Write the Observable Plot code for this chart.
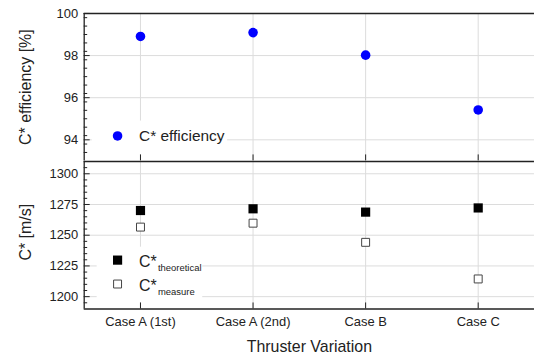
<!DOCTYPE html>
<html><head><meta charset="utf-8">
<script src="https://cdn.jsdelivr.net/npm/d3@7"></script>
<script src="https://cdn.jsdelivr.net/npm/@observablehq/plot@0.6"></script>
<style>
html,body{margin:0;padding:0;background:#fff;overflow:hidden;}
#wrap{position:relative;width:534px;height:357px;overflow:hidden;background:#fff;}
#topPanel,#botPanel{position:absolute;left:0;}
#topPanel{top:0}
#botPanel{top:160px}
</style></head><body><div id="wrap"><div id="topPanel"></div><div id="botPanel"></div></div>
<script>
// ---- data ----
const cases = ["Case A (1st)", "Case A (2nd)", "Case B", "Case C"];
const efficiency = [98.91, 99.09, 98.02, 95.42];
const cTheoretical = [1270.1, 1271.5, 1268.8, 1272.2];
const cMeasured = [1256.6, 1259.8, 1244.2, 1214.4];
const effTicks = [94, 96, 98, 100];
const cTicks = [1200, 1225, 1250, 1275, 1300];
const effDomain = [93, 100];
const cDomain = [1190, 1310];
const effMinorStep = 0.4;
const cMinorStep = 5;
const legendEff = "C* efficiency";
const legendC = ["C*", "C*"];
const legendSub = ["theoretical", "measure"];
const titles = {yTop: "C* efficiency [%]", yBot: "C* [m/s]", x: "Thruster Variation"};

// ---- layout ----
const W = 536, ML = 84, MR = 0;
const topH = 161, topMT = 13;
const botH = 197, botMT = 1, botMB = 48;
const pxX = (W - ML - MR) / cases.length;
const idx = cases.map((_, i) => i);
const xDomain = [-0.5, cases.length - 0.5];
const topK = (topH - topMT) / (effDomain[1] - effDomain[0]);
const botK = (botH - botMT - botMB) / (cDomain[1] - cDomain[0]);
const px2x = p => xDomain[0] + (p - ML) / pxX;
const px2yTop = p => effDomain[1] - (p - topMT) / topK;
const px2yBot = p => cDomain[1] - (p - 161) / botK;
const ink = "#222";
const gridColor = "#dcdcdc";
const blue = "#0000ff";
const font = "'Liberation Sans', Arial, sans-serif";
const minor = (dom, step, majors) => d3.range(Math.round((dom[1]-dom[0])/step)+1)
  .map(k => +(dom[0] + k*step).toFixed(4))
  .filter(v => v > dom[0] && v < dom[1] && !majors.includes(v));
const T = {lineAnchor: "middle", fill: ink};

const plotStyle = {fontFamily: font, background: "transparent", color: ink, overflow: "visible"};

const topChart = Plot.plot({
  width: W, height: topH, marginLeft: ML, marginRight: MR, marginTop: topMT, marginBottom: 0,
  style: plotStyle,
  x: {domain: xDomain, axis: null},
  y: {domain: effDomain, axis: null},
  marks: [
    Plot.gridY(effTicks, {stroke: gridColor, strokeOpacity: 1}),
    Plot.gridX(idx, {stroke: gridColor, strokeOpacity: 1}),
    Plot.rect([0], {x1: px2x(92), x2: px2x(228), y1: px2yTop(121), y2: px2yTop(155), fill: "white"}),
    Plot.ruleY(minor(effDomain, effMinorStep, effTicks), {x1: xDomain[0], x2: px2x(ML + 3.5), stroke: ink}),
    Plot.ruleY(effTicks, {x1: xDomain[0], x2: px2x(ML + 6), stroke: ink}),
    Plot.ruleX(idx, {y1: effDomain[0], y2: effDomain[0] + 6 / topK, stroke: ink}),
    Plot.ruleY([effDomain[1]], {stroke: ink, strokeWidth: 1.5}),
    Plot.ruleX([xDomain[0]], {stroke: ink, strokeWidth: 1.3}),
    Plot.dot(idx, {x: i => i, y: i => efficiency[i], r: 4.8, fill: blue}),
    Plot.dot([0], {frameAnchor: "bottom-left", dx: 33.5, dy: -25, r: 4.8, fill: blue}),
    Plot.text([legendEff], {...T, frameAnchor: "bottom-left", dx: 55, dy: -24.5, textAnchor: "start", fontSize: 15.5}),
    Plot.axisY(effTicks, {tickSize: 0, tickPadding: 6, fontSize: 13, label: null, fill: ink, tickFormat: d => String(d)}),
    Plot.text([titles.yTop], {...T, frameAnchor: "left", textAnchor: "middle", dx: -59, rotate: -90, fontSize: 16})
  ]
});
document.getElementById("topPanel").appendChild(topChart);

const botChart = Plot.plot({
  width: W, height: botH, marginLeft: ML, marginRight: MR, marginTop: botMT, marginBottom: botMB,
  style: plotStyle,
  x: {domain: xDomain, axis: null},
  y: {domain: cDomain, axis: null},
  marks: [
    Plot.gridY(cTicks, {stroke: gridColor, strokeOpacity: 1}),
    Plot.gridX(idx, {stroke: gridColor, strokeOpacity: 1}),
    Plot.rect([0], {x1: px2x(97), x2: px2x(203), y1: px2yBot(247), y2: px2yBot(303), fill: "white"}),
    Plot.ruleY(minor(cDomain, cMinorStep, cTicks), {x1: xDomain[0], x2: px2x(ML + 3.5), stroke: ink}),
    Plot.ruleY(cTicks, {x1: xDomain[0], x2: px2x(ML + 6), stroke: ink}),
    Plot.ruleX(idx, {y1: cDomain[0], y2: cDomain[0] + 6 / botK, stroke: ink}),
    Plot.ruleY([cDomain[1]], {stroke: ink, strokeWidth: 1.5}),
    Plot.ruleY([cDomain[0]], {stroke: ink, strokeWidth: 1.5}),
    Plot.ruleX([xDomain[0]], {stroke: ink, strokeWidth: 1.3}),
    Plot.dot(idx, {x: i => i, y: i => cTheoretical[i], r: 5.2, symbol: "square", fill: "#000"}),
    Plot.dot(idx, {x: i => i, y: i => cMeasured[i], r: 4.5, symbol: "square", fill: "white", stroke: "#444", strokeWidth: 1}),
    Plot.dot([0], {frameAnchor: "bottom-left", dx: 33.5, dy: -49, r: 5.2, symbol: "square", fill: "#000"}),
    Plot.dot([0], {frameAnchor: "bottom-left", dx: 33.5, dy: -25, r: 4.5, symbol: "square", fill: "white", stroke: "#444", strokeWidth: 1}),
    Plot.text([legendC[0]], {...T, frameAnchor: "bottom-left", dx: 55, dy: -47.5, textAnchor: "start", fontSize: 16}),
    Plot.text([legendC[1]], {...T, frameAnchor: "bottom-left", dx: 55, dy: -23.5, textAnchor: "start", fontSize: 16}),
    Plot.text([legendSub[0]], {...T, frameAnchor: "bottom-left", dx: 74, dy: -41.4, textAnchor: "start", fontSize: 9.5}),
    Plot.text([legendSub[1]], {...T, frameAnchor: "bottom-left", dx: 74, dy: -17.4, textAnchor: "start", fontSize: 9.5}),
    Plot.axisY(cTicks, {tickSize: 0, tickPadding: 6, fontSize: 13, label: null, fill: ink, tickFormat: d => String(d)}),
    Plot.axisX(idx, {tickSize: 0, tickPadding: 8, fontSize: 13, label: null, fill: ink, tickFormat: i => cases[i]}),
    Plot.text([titles.yBot], {...T, frameAnchor: "left", textAnchor: "middle", dx: -59, dy: -3, rotate: -90, fontSize: 16}),
    Plot.text([titles.x], {...T, frameAnchor: "bottom", textAnchor: "middle", dy: 37.7, fontSize: 16})
  ]
});
document.getElementById("botPanel").appendChild(botChart);
</script></body></html>
